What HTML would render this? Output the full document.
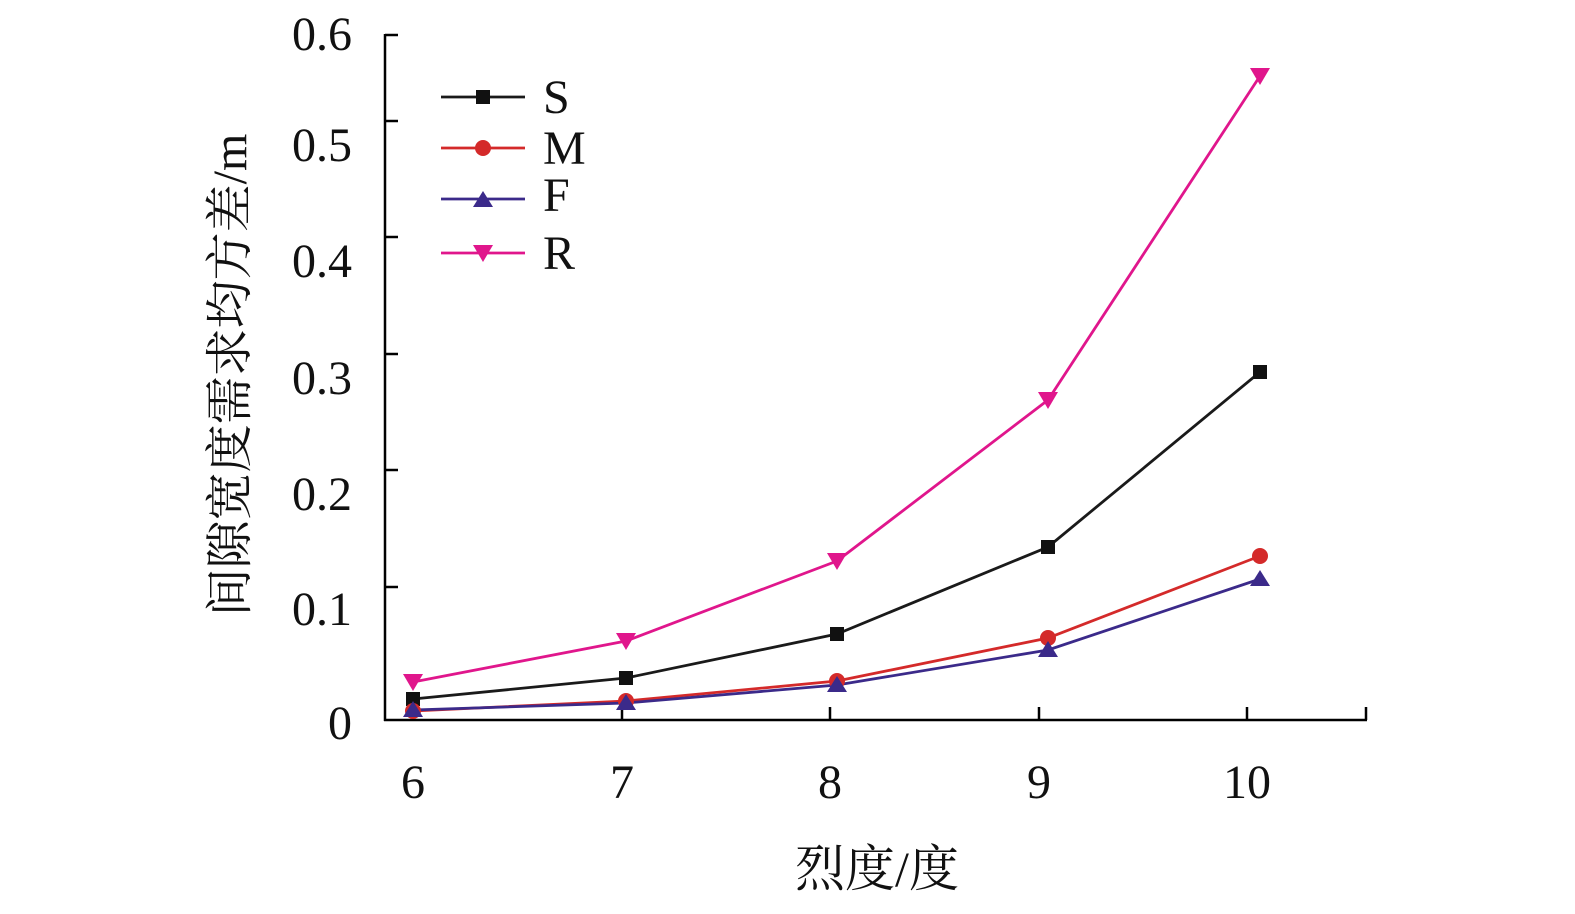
<!DOCTYPE html>
<html><head><meta charset="utf-8"><style>body{margin:0;background:#fff}svg{display:block}</style></head><body>
<svg width="1575" height="914" viewBox="0 0 1575 914" xmlns="http://www.w3.org/2000/svg" font-family="'Liberation Serif','Noto Serif CJK SC',serif">
<g stroke="#000" stroke-width="2.5" fill="none">
<line x1="385" y1="34" x2="385" y2="721"/>
<line x1="384" y1="720" x2="1367" y2="720"/>
<line x1="385" y1="35" x2="398" y2="35"/>
<line x1="385" y1="121" x2="398" y2="121"/>
<line x1="385" y1="237" x2="398" y2="237"/>
<line x1="385" y1="354" x2="398" y2="354"/>
<line x1="385" y1="470" x2="398" y2="470"/>
<line x1="385" y1="587" x2="398" y2="587"/>
<line x1="413" y1="720" x2="413" y2="707"/>
<line x1="622" y1="720" x2="622" y2="707"/>
<line x1="830" y1="720" x2="830" y2="707"/>
<line x1="1039" y1="720" x2="1039" y2="707"/>
<line x1="1247" y1="720" x2="1247" y2="707"/>
<line x1="1366" y1="720" x2="1366" y2="707"/>
</g>
<g font-size="48" text-anchor="end" fill="#111">
<text x="352" y="50">0.6</text><text x="352" y="161">0.5</text><text x="352" y="277">0.4</text>
<text x="352" y="394">0.3</text><text x="352" y="510">0.2</text><text x="352" y="625">0.1</text><text x="352" y="739">0</text>
</g>
<g font-size="48" text-anchor="middle" fill="#111">
<text x="413" y="798">6</text><text x="622" y="798">7</text><text x="830" y="798">8</text><text x="1039" y="798">9</text><text x="1247" y="798">10</text>
</g>
<text x="877" y="886" font-size="50" text-anchor="middle" fill="#111">烈度/度</text>
<text transform="translate(246,375) rotate(-90)" font-size="48" text-anchor="middle" fill="#111">间隙宽度需求均方差/m</text>
<g stroke-width="2.8" fill="none">
<polyline stroke="#e0168c" points="413,682 626,641 837,561 1048,400 1260,76"/>
<polyline stroke="#1a1a1a" points="413,699 626,678 837,634 1048,547 1260,372"/>
<polyline stroke="#d42a2a" points="413,711 626,701 837,681 1048,638 1260,556"/>
<polyline stroke="#3b2a8a" points="413,710 626,703 837,685 1048,650 1260,579"/>
</g>
<g fill="#e0168c"><path d="M403,674h20l-10,17z"/><path d="M616,633h20l-10,17z"/><path d="M827,553h20l-10,17z"/><path d="M1038,392h20l-10,17z"/><path d="M1250,68h20l-10,17z"/></g>
<g fill="#111"><rect x="406" y="692" width="14" height="14"/><rect x="619" y="671" width="14" height="14"/><rect x="830" y="627" width="14" height="14"/><rect x="1041" y="540" width="14" height="14"/><rect x="1253" y="365" width="14" height="14"/></g>
<g fill="#d42a2a"><circle cx="413" cy="711" r="8"/><circle cx="626" cy="701" r="8"/><circle cx="837" cy="681" r="8"/><circle cx="1048" cy="638" r="8"/><circle cx="1260" cy="556" r="8"/></g>
<g fill="#3b2a8a"><path d="M403,717h20l-10,-16z"/><path d="M616,710h20l-10,-16z"/><path d="M827,692h20l-10,-16z"/><path d="M1038,657h20l-10,-16z"/><path d="M1250,586h20l-10,-16z"/></g>
<g stroke-width="2.8">
<line x1="441" y1="97" x2="525" y2="97" stroke="#1a1a1a"/>
<line x1="441" y1="148" x2="525" y2="148" stroke="#d42a2a"/>
<line x1="441" y1="199" x2="525" y2="199" stroke="#3b2a8a"/>
<line x1="441" y1="253" x2="525" y2="253" stroke="#e0168c"/>
</g>
<rect x="476" y="90" width="14" height="14" fill="#111"/>
<circle cx="483" cy="148" r="8" fill="#d42a2a"/>
<path d="M473,207h20l-10,-16z" fill="#3b2a8a"/>
<path d="M473,245h20l-10,17z" fill="#e0168c"/>
<g font-size="48" fill="#111">
<text x="543" y="113">S</text><text x="543" y="164">M</text><text x="543" y="211">F</text><text x="543" y="269">R</text>
</g>
</svg>
</body></html>
